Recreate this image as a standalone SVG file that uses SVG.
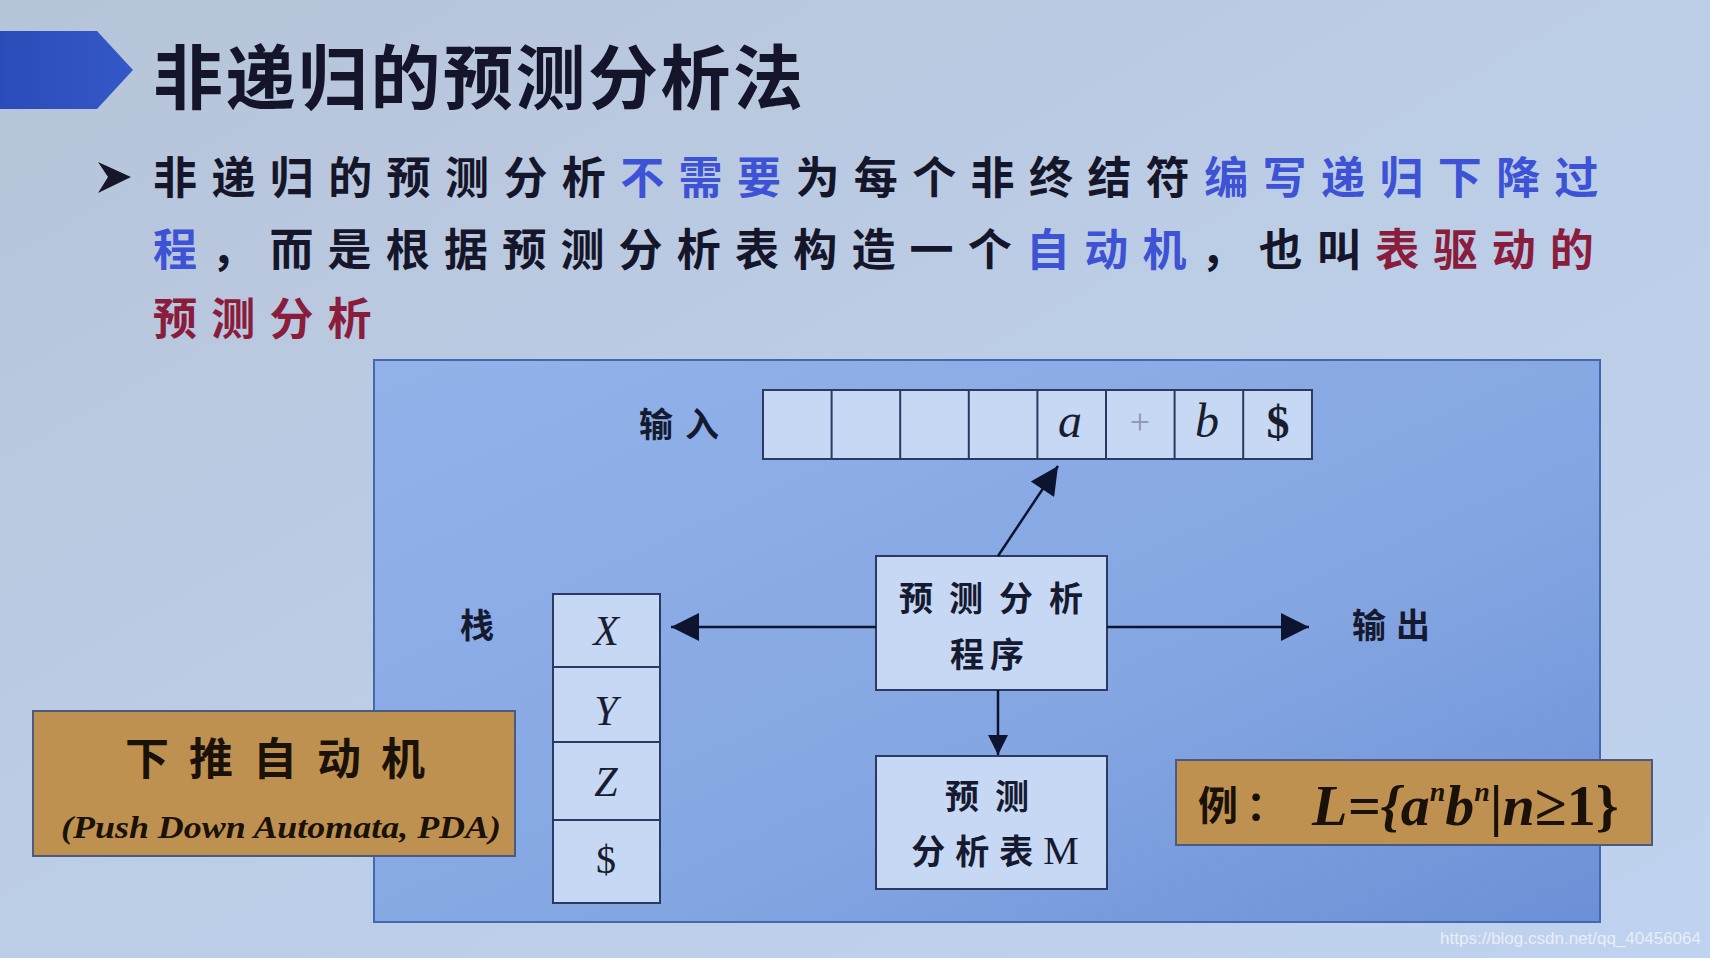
<svg xmlns="http://www.w3.org/2000/svg" width="1710" height="958" viewBox="0 0 1710 958">
<defs>
<linearGradient id="bg" x1="0" y1="0" x2="1" y2="1">
<stop offset="0" stop-color="#b6c4d9"/>
<stop offset="0.5" stop-color="#bccde6"/>
<stop offset="1" stop-color="#bfd2ef"/>
</linearGradient>
<linearGradient id="panel" x1="0" y1="0" x2="1" y2="1">
<stop offset="0" stop-color="#92b2ea"/>
<stop offset="0.6" stop-color="#84a6e2"/>
<stop offset="1" stop-color="#6c90d6"/>
</linearGradient>
<linearGradient id="banner" x1="0" y1="0" x2="1" y2="0">
<stop offset="0" stop-color="#2a4cb8"/>
<stop offset="1" stop-color="#3558c8"/>
</linearGradient>
<marker id="ah" viewBox="0 0 10 10" refX="10" refY="5" markerWidth="45" markerHeight="28" markerUnits="userSpaceOnUse" orient="auto">
<path d="M0,0 L10,5 L0,10 Z" fill="#0d1430"/>
</marker>
<marker id="ahs" viewBox="0 0 10 10" refX="10" refY="5" markerWidth="24" markerHeight="20" markerUnits="userSpaceOnUse" orient="auto">
<path d="M0,0 L10,5 L0,10 Z" fill="#0d1430"/>
</marker>
</defs>
<style>
.cjk{font-family:"Noto Sans CJK SC","Noto Sans",sans-serif;font-weight:bold;}
.k{fill:#16162a;}
.b{fill:#3d52d4;}
.r{fill:#8a1c3c;}
.box{fill:#c6d8f3;stroke:#2b3a62;stroke-width:2;}
.lbl{font-family:"Noto Sans CJK SC",sans-serif;font-weight:bold;font-size:34px;fill:#161a30;}
.ser{font-family:"Liberation Serif",serif;font-style:italic;fill:#1a1d30;}
.line{stroke:#0d1430;stroke-width:2.5;fill:none;}
.tan{fill:#bf9150;stroke:#4a5a80;stroke-width:2;}
</style>
<rect x="0" y="0" width="1710" height="958" fill="url(#bg)"/>

<g id="title">
<polygon points="0,31 97,31 133,70 97,109 0,109" fill="url(#banner)"/>
<text x="153" y="104" class="cjk" font-size="70" letter-spacing="2.5" fill="#14142a">非递归的预测分析法</text>
</g>

<g id="bullet">
<polygon points="98,162 131,177 98,193 108,177" fill="#16162a"/>
<text x="153" y="194" class="cjk" font-size="44" letter-spacing="14.4"><tspan class="k">非递归的预测分析</tspan><tspan class="b">不需要</tspan><tspan class="k">为每个非终结符</tspan><tspan class="b">编写递归下降过</tspan></text>
<text x="153" y="266" class="cjk" font-size="44" letter-spacing="14.2"><tspan class="b">程</tspan><tspan class="k">，而是根据预测分析表构造一个</tspan><tspan class="b">自动机</tspan><tspan class="k">，也叫</tspan><tspan class="r">表驱动的</tspan></text>
<text x="153" y="335" class="cjk r" font-size="44" letter-spacing="14.2">预测分析</text>
</g>

<g id="panel">
<rect x="374" y="360" width="1226" height="562" fill="url(#panel)" stroke="#4468b0" stroke-width="2"/>
</g>

<g id="input">
<text x="639" y="437" class="lbl" font-size="37" letter-spacing="12">输入</text>
<rect x="763" y="390" width="549" height="69" class="box"/>
<path d="M831.6,390V459M900.2,390V459M968.8,390V459M1037.4,390V459M1106,390V459M1174.6,390V459M1243.2,390V459" stroke="#2b3a62" stroke-width="2"/>
<text x="1070" y="437" class="ser" font-size="48" text-anchor="middle">a</text>
<text x="1140" y="434" font-family="Liberation Serif,serif" font-size="36" fill="#8a96b0" text-anchor="middle">+</text>
<text x="1207" y="437" class="ser" font-size="48" text-anchor="middle">b</text>
<text x="1278" y="438" font-family="Liberation Serif,serif" font-weight="bold" font-size="46" fill="#1a1d30" text-anchor="middle">$</text>
</g>

<g id="stack">
<text x="477" y="638" class="lbl" text-anchor="middle">栈</text>
<rect x="553" y="594" width="107" height="309" class="box"/>
<path d="M553,667H660M553,742H660M553,820H660" stroke="#2b3a62" stroke-width="2"/>
<text x="606" y="645" class="ser" font-size="42" text-anchor="middle">X</text>
<text x="606" y="725" class="ser" font-size="42" text-anchor="middle">Y</text>
<text x="606" y="796" class="ser" font-size="42" text-anchor="middle">Z</text>
<text x="606" y="873" font-family="Liberation Serif,serif" font-size="40" fill="#1a1d30" text-anchor="middle">$</text>
</g>

<g id="program">
<rect x="876" y="556" width="231" height="134" class="box"/>
<text x="999" y="611" class="lbl" letter-spacing="16" text-anchor="middle">预测分析</text>
<text x="990" y="667" class="lbl" letter-spacing="6" text-anchor="middle">程序</text>
</g>

<g id="table">
<rect x="876" y="756" width="231" height="133" class="box"/>
<text x="995" y="809" class="lbl" letter-spacing="16" text-anchor="middle">预测</text>
<text x="995" y="864" class="lbl" letter-spacing="10" text-anchor="middle">分析表<tspan font-family="Liberation Serif,serif" font-weight="normal" font-size="40" letter-spacing="0">M</tspan></text>
</g>

<g id="output">
<text x="1396" y="638" class="lbl" letter-spacing="10" text-anchor="middle">输出</text>
</g>

<g id="connectors">
<line x1="876" y1="627" x2="671" y2="627" class="line" marker-end="url(#ah)"/>
<line x1="1107" y1="627" x2="1309" y2="627" class="line" marker-end="url(#ah)"/>
<line x1="998" y1="556" x2="1058" y2="466" class="line" marker-end="url(#ah)"/>
<line x1="998" y1="690" x2="998" y2="755" class="line" marker-end="url(#ahs)"/>
</g>

<g id="pda">
<rect x="33" y="711" width="482" height="145" class="tan"/>
<text x="285" y="775" class="cjk" font-size="44" letter-spacing="20" fill="#1a1208" text-anchor="middle">下推自动机</text>
<text x="281" y="838" font-family="Liberation Serif,serif" font-style="italic" font-weight="bold" font-size="31" fill="#1a1208" text-anchor="middle" textLength="440" lengthAdjust="spacingAndGlyphs">(Push Down Automata, PDA)</text>
</g>

<g id="example">
<rect x="1176" y="760" width="476" height="85" class="tan"/>
<text x="1198" y="820" class="cjk" font-size="40" letter-spacing="8" fill="#1a1208">例：</text>
<text x="1312" y="825" font-family="Liberation Serif,serif" font-style="italic" font-weight="bold" font-size="58" fill="#1a1208">L={a<tspan font-size="28" dy="-24">n</tspan><tspan dy="24">b</tspan><tspan font-size="28" dy="-24">n</tspan><tspan dy="24" font-style="normal">|</tspan>n<tspan font-style="normal">≥1}</tspan></text>
</g>

<g id="watermark">
<text x="1701" y="944" font-family="Liberation Sans,Arial,sans-serif" font-size="17" fill="#e8eef8" text-anchor="end">https://blog.csdn.net/qq_40456064</text>
</g>
</svg>
